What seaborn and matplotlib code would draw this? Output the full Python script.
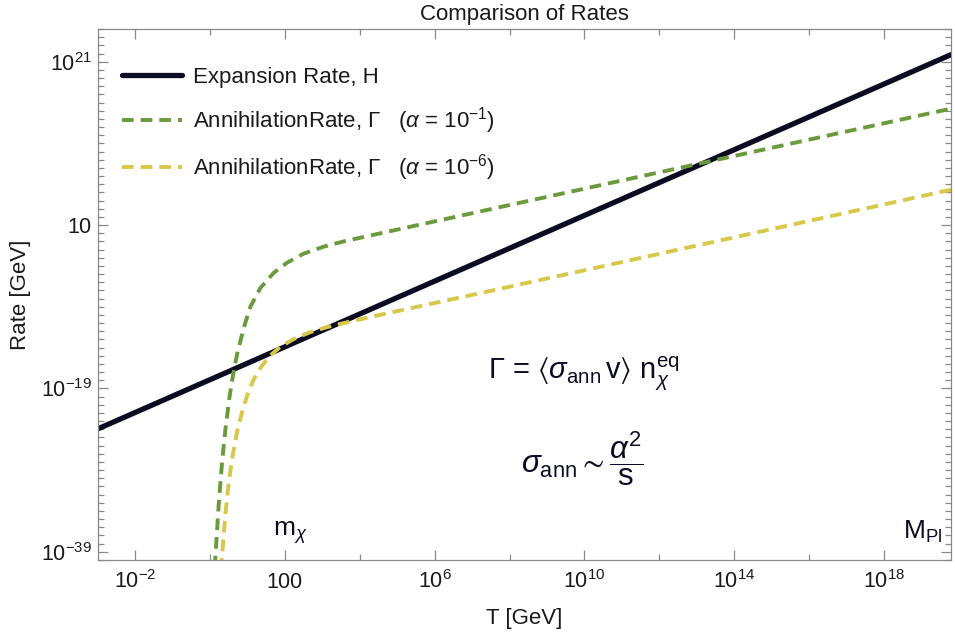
import numpy as np
import pandas as pd
import seaborn as sns
import matplotlib
matplotlib.use('Agg')
import matplotlib.pyplot as plt
from matplotlib.ticker import FixedLocator, FixedFormatter, NullFormatter

# values, as log10 of T [GeV] and log10 of rate [GeV]
h_logT = [-3.0, 19.8]
h_logR = [-23.94, 21.86]

g1_logT = [0.12, 0.138, 0.226, 0.317, 0.405, 0.52, 0.627, 0.718, 0.894, 1.073,
           1.34, 1.696, 2.054, 2.497, 3.032, 3.566, 6.0, 10.0, 13.1, 16.0, 19.8]
g1_logR = [-40.9, -39.6, -33.2, -28.0, -24.0, -19.9, -16.9, -14.8, -11.6, -9.0,
           -6.7, -4.85, -3.6, -2.5, -1.65, -1.0, 1.45, 5.45, 8.55, 11.45, 15.25]

g6_logT = [0.29, 0.317, 0.405, 0.493, 0.584, 0.718, 0.851, 0.985, 1.161, 1.34,
           1.52, 1.61, 1.875, 2.23, 2.677, 3.12, 3.657, 4.547, 6.95, 11.23, 15.5, 19.8]
g6_logR = [-41.2, -39.4, -34.4, -30.6, -27.6, -24.3, -21.9, -19.9, -17.9, -16.5,
           -15.4, -14.95, -13.9, -12.95, -12.1, -11.5, -10.9, -9.98, -7.6, -3.3, 1.0, 5.33]

x_major = [-2, 2, 6, 10, 14, 18]
x_labels = [r'$10^{-2}$', r'$100$', r'$10^{6}$', r'$10^{10}$', r'$10^{14}$', r'$10^{18}$']
x_minor = [0, 4, 8, 12, 16]
y_major = [-39, -19, 1, 21]
y_labels = [r'$10^{-39}$', r'$10^{-19}$', r'$10$', r'$10^{21}$']

black = '#0b0b22'
green = '#6b9a3c'
yellow = '#d8c84a'
txt = '#1a1a1a'

sns.set_theme(style='ticks')
plt.rcParams['font.family'] = ['Liberation Sans', 'DejaVu Sans']
plt.rcParams['mathtext.fontset'] = 'custom'
plt.rcParams['mathtext.rm'] = 'Liberation Sans'
plt.rcParams['mathtext.it'] = 'Liberation Sans:italic'
plt.rcParams['mathtext.bf'] = 'Liberation Sans:bold'
plt.rcParams['mathtext.fallback'] = 'stixsans'

fig = plt.figure(figsize=(9.55, 6.39), dpi=100)
ax = fig.add_axes([98/955, 1-560/639, 853/955, 531/639])
ax.set(xscale='log', yscale='log')

h = pd.DataFrame({'T': 10.0 ** np.array(h_logT), 'rate': 10.0 ** np.array(h_logR)})
a1 = pd.DataFrame({'T': 10.0 ** np.array(g1_logT), 'rate': 10.0 ** np.array(g1_logR)})
a6 = pd.DataFrame({'T': 10.0 ** np.array(g6_logT), 'rate': 10.0 ** np.array(g6_logR)})

sns.lineplot(data=h, x='T', y='rate', ax=ax, color=black, lw=3.8,
             label='Expansion Rate, H')
sns.lineplot(data=a1, x='T', y='rate', ax=ax, color=green, lw=2.8,
             linestyle=(0, (3.0, 1.8)),
             label=r'AnnihilationRate, Γ   ($\alpha$ = 10$^{-1}$)')
sns.lineplot(data=a6, x='T', y='rate', ax=ax, color=yellow, lw=2.8,
             linestyle=(0, (3.0, 1.8)),
             label=r'AnnihilationRate, Γ   ($\alpha$ = 10$^{-6}$)')

ax.set_xlim(10.0 ** -3, 10.0 ** 19.8)
ax.set_ylim(1e-40, 1e25)

ax.xaxis.set_major_locator(FixedLocator([10.0 ** v for v in x_major]))
ax.xaxis.set_major_formatter(FixedFormatter(x_labels))
ax.xaxis.set_minor_locator(FixedLocator([10.0 ** v for v in x_minor]))
ax.xaxis.set_minor_formatter(NullFormatter())
ax.yaxis.set_major_locator(FixedLocator([10.0 ** v for v in y_major]))
ax.yaxis.set_major_formatter(FixedFormatter(y_labels))
ax.yaxis.set_minor_locator(FixedLocator([10.0 ** v for v in range(-40, 26)]))
ax.yaxis.set_minor_formatter(NullFormatter())

ax.tick_params(which='both', direction='in', top=True, right=True,
               color='#888888', width=0.9, labelcolor=txt, labelsize=15.5)
ax.tick_params(which='major', length=7)
ax.tick_params(which='minor', length=4)
ax.tick_params(axis='x', which='major', pad=20)
ax.tick_params(axis='y', which='major', pad=4.5)
for t in ax.xaxis.get_major_ticks():
    t.label1.set_verticalalignment('baseline')
for s in ax.spines.values():
    s.set_color('#888888')
    s.set_linewidth(0.9)

ax.set_title('Comparison of Rates', fontsize=16, color=txt, pad=6.5)
ax.set_xlabel('T [GeV]', fontsize=16, color=txt)
ax.set_ylabel('Rate [GeV]', fontsize=16, color=txt)
ax.xaxis.set_label_coords(0.5, -0.09)
ax.yaxis.set_label_coords(-0.078, 0.5)

ax.legend(loc='upper left', bbox_to_anchor=(0.028, 0.928), frameon=False,
          fontsize=16, handlelength=2.7, handletextpad=0.5, labelspacing=0.75,
          borderpad=0, borderaxespad=0, labelcolor=txt)

ax.text(0.569, 0.350,
        r'$\Gamma$ = $\langle\sigma_{\mathrm{ann}}\,\mathrm{v}\rangle$ $\mathrm{n}_{\chi}^{\mathrm{eq}}$',
        transform=ax.transAxes, fontsize=21, color=black, ha='center', va='center')
ax.text(0.568, 0.19, r'$\sigma_{\mathrm{ann}}\sim\dfrac{\alpha^{2}}{\mathrm{s}}$',
        transform=ax.transAxes, fontsize=22.5, color=black, ha='center', va='center')
ax.text(0.226, 0.051, r'm$_{\chi}$', transform=ax.transAxes, fontsize=19,
        color=black, ha='center', va='center')
ax.text(0.967, 0.053, r'M$_{\mathrm{Pl}}$', transform=ax.transAxes, fontsize=19,
        color=black, ha='center', va='center')

fig.savefig('out.png', dpi=100)
